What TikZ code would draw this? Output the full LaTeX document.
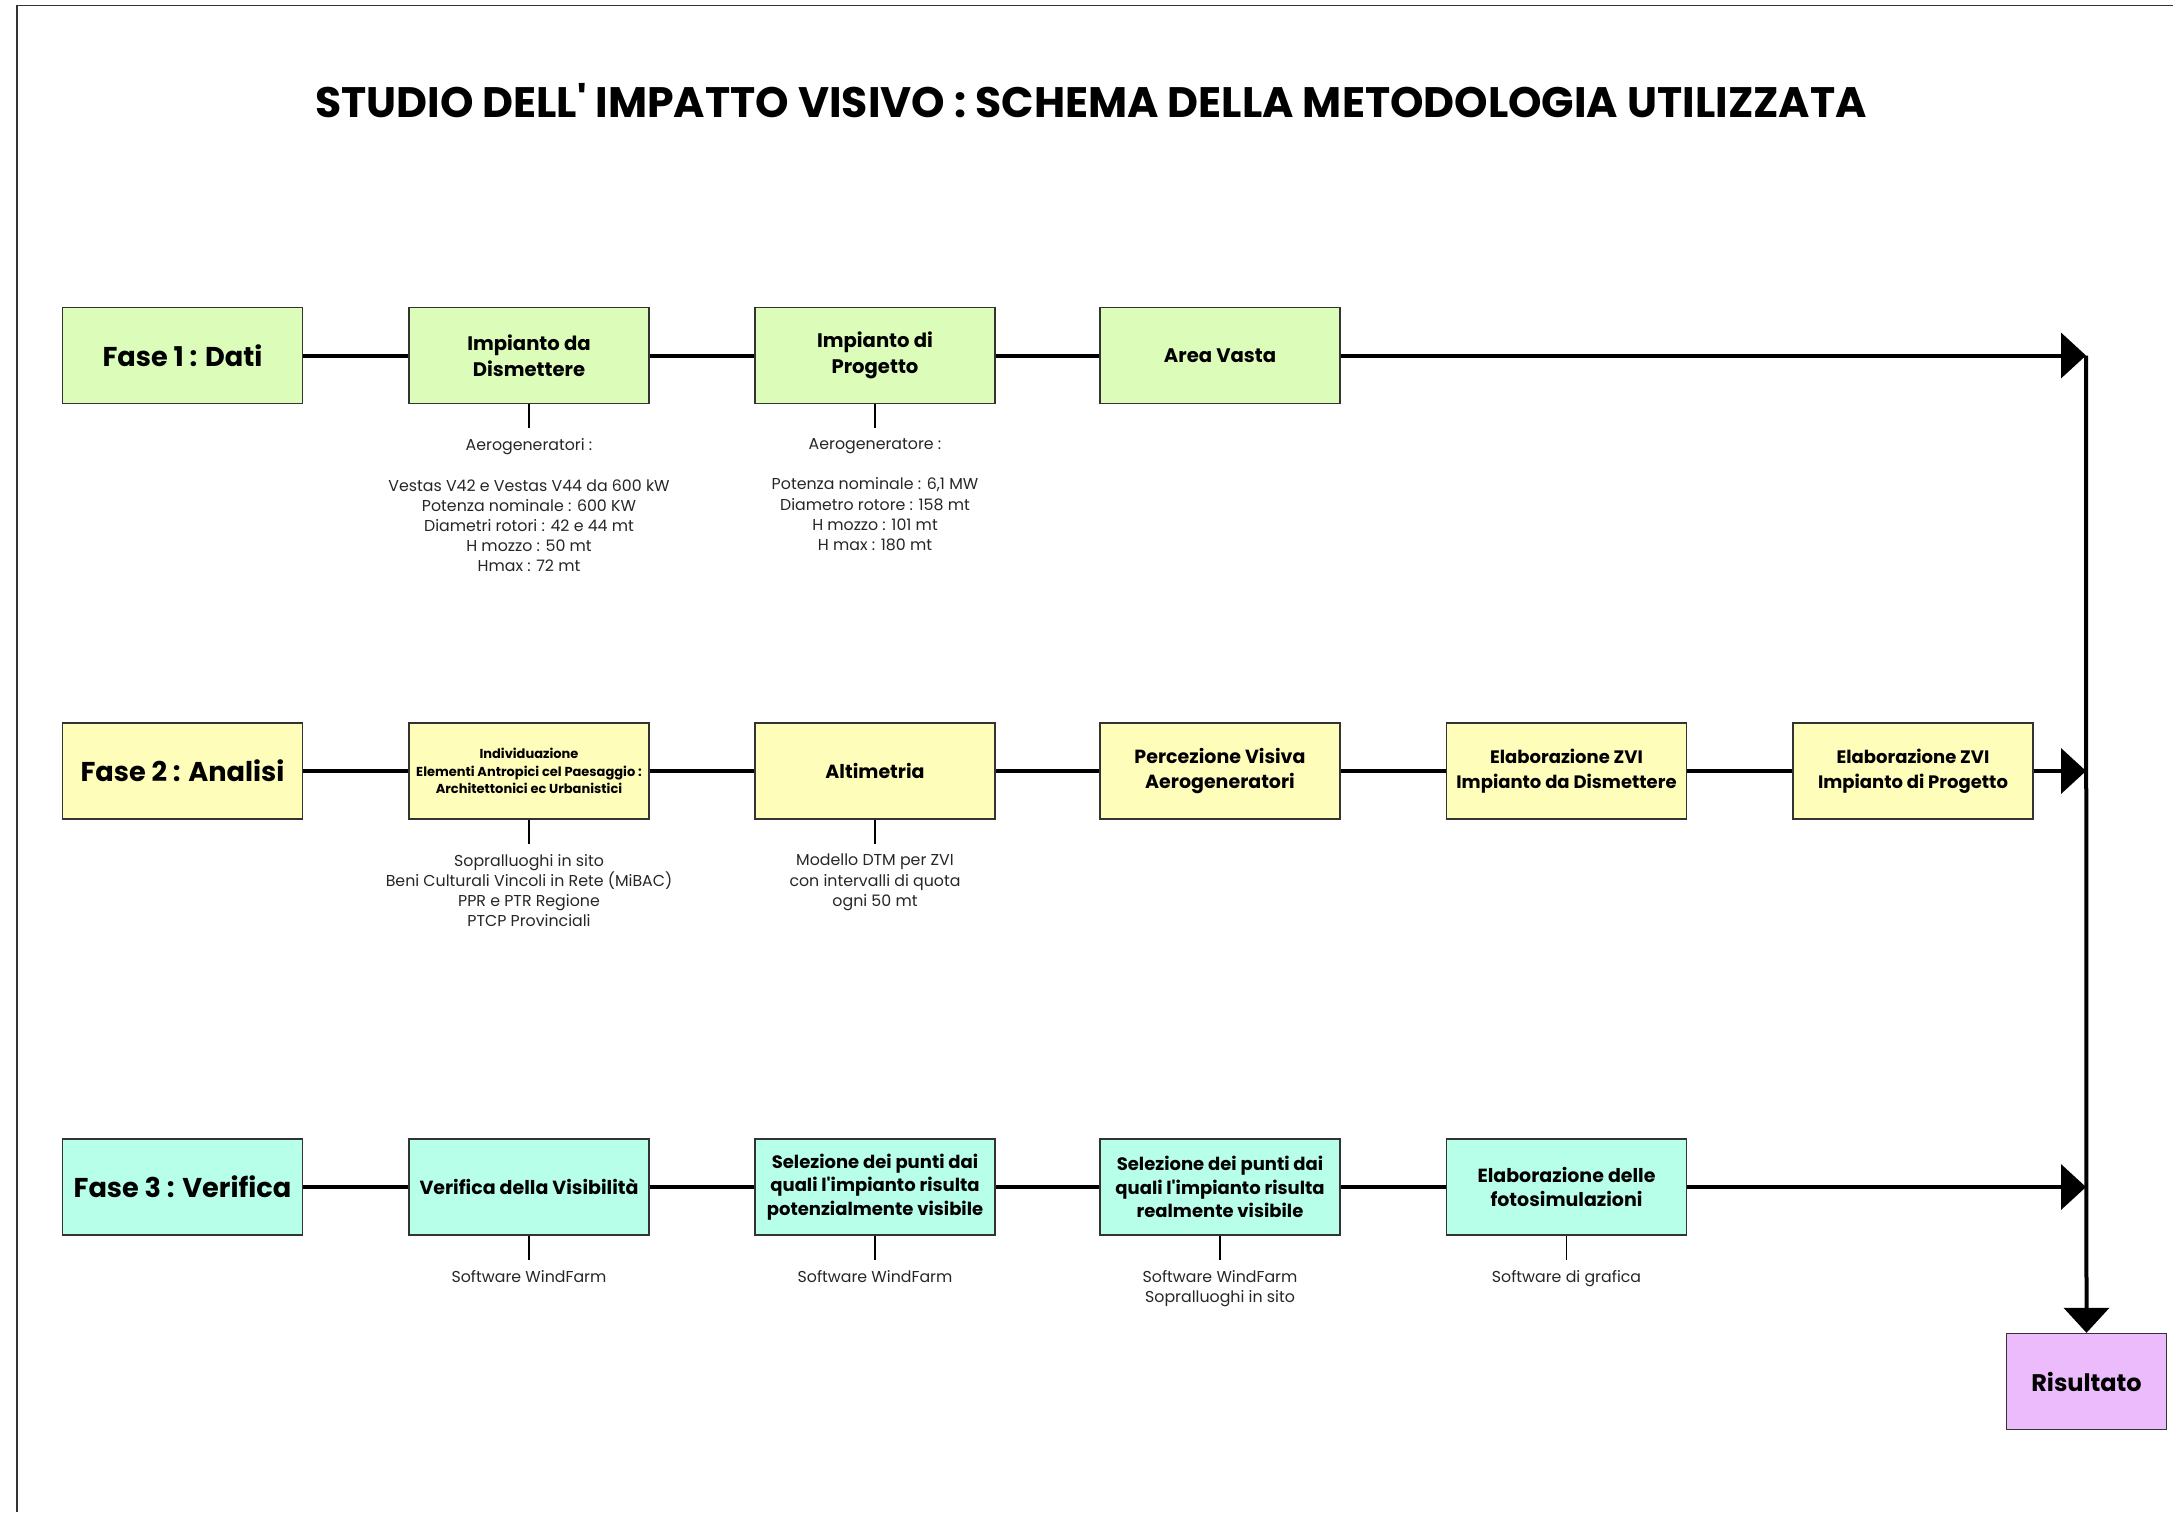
\documentclass[tikz,border=0pt]{standalone}
\usepackage{fontspec}
\setmainfont{Poppins}
\usetikzlibrary{arrows.meta}
\definecolor{cA}{HTML}{DBFDB9}
\definecolor{cB}{HTML}{FFFDBA}
\definecolor{cC}{HTML}{B8FFEA}
\definecolor{cD}{HTML}{EBBBFB}
\definecolor{edge}{HTML}{333333}
\begin{document}
\begin{tikzpicture}[x=0.5pt,y=-0.5pt,
  stepbox/.style={draw=edge, line width=0.7pt, minimum width=120pt, minimum height=48pt,
    inner sep=1pt, align=center, font=\fontsize{9.5}{12.3}\selectfont\bfseries},
  fasebox/.style={stepbox, font=\fontsize{13.6}{16}\selectfont\bfseries},
  tinybox/.style={stepbox, font=\fontsize{6.5}{8.7}\selectfont\bfseries},
  conn/.style={line width=2pt, black},
  arr/.style={conn, -{Triangle[length=12.5pt,width=22.5pt]}},
  leader/.style={line width=0.7pt, black},
  note/.style={anchor=north, align=center, inner sep=0pt, text=black!85,
    font=\fontsize{7.9}{10.1}\selectfont},
]
\useasboundingbox (0,0) rectangle (2173,1512);
\draw[line width=0.75pt, edge] (17,1512) -- (17,5.5) -- (2173,5.5);

\node[font=\fontsize{21.3}{24}\selectfont\bfseries] (title) at (1091,101) {STUDIO DELL\textquotesingle{} IMPATTO VISIVO : SCHEMA DELLA METODOLOGIA UTILIZZATA};

% Row 1
\node[fasebox, fill=cA] (a1) at (182.5,355.5) {Fase 1 : Dati};
\node[stepbox, fill=cA, font=\fontsize{9.8}{13}\selectfont\bfseries] (a2) at (529,355.5) {Impianto da\\Dismettere};
\node[stepbox, fill=cA, font=\fontsize{9.8}{13}\selectfont\bfseries] (a3) at (875,355.5) {Impianto di\\Progetto};
\node[stepbox, fill=cA, font=\fontsize{9.8}{13}\selectfont\bfseries] (a4) at (1220,355.5) {Area Vasta};
\coordinate (j1) at (2086,355.5);

% Row 2
\node[fasebox, fill=cB] (b1) at (182.5,771) {Fase 2 : Analisi};
\node[tinybox, fill=cB] (b2) at (529,771) {Individuazione\\Elementi Antropici cel Paesaggio :\\Architettonici ec Urbanistici};
\node[stepbox, fill=cB] (b3) at (875,771) {Altimetria};
\node[stepbox, fill=cB] (b4) at (1220,771) {Percezione Visiva\\Aerogeneratori};
\node[stepbox, fill=cB, font=\fontsize{9}{12.3}\selectfont\bfseries] (b5) at (1566.5,771) {Elaborazione ZVI\\Impianto da Dismettere};
\node[stepbox, fill=cB, font=\fontsize{9}{12.3}\selectfont\bfseries] (b6) at (1913,771) {Elaborazione ZVI\\Impianto di Progetto};
\coordinate (j2) at (2086,771);

% Row 3
\node[fasebox, fill=cC] (c1) at (182.5,1187) {Fase 3 : Verifica};
\node[stepbox, fill=cC] (c2) at (529,1187) {Verifica della Visibilità};
\node[stepbox, fill=cC, font=\fontsize{9}{11.8}\selectfont\bfseries] (c3) at (875,1187) {Selezione dei punti dai\\quali l\textquotesingle{}impianto risulta\\potenzialmente visibile};
\node[stepbox, fill=cC, font=\fontsize{9}{11.8}\selectfont\bfseries] (c4) at (1220,1187) {Selezione dei punti dai\\quali l\textquotesingle{}impianto risulta\\realmente visibile};
\node[stepbox, fill=cC] (c5) at (1566.5,1187) {Elaborazione delle\\fotosimulazioni};
\coordinate (j3) at (2086,1187);

\node[stepbox, fill=cD, minimum width=80pt, font=\fontsize{12}{14}\selectfont\bfseries] (r) at (2086.5,1381.5) {Risultato};

% connectors
\draw[conn] (a1.east) -- (a2.west);
\draw[conn] (a2.east) -- (a3.west);
\draw[conn] (a3.east) -- (a4.west);
\draw[arr] (a4.east) -- (j1);
\draw[conn] (b1.east) -- (b2.west);
\draw[conn] (b2.east) -- (b3.west);
\draw[conn] (b3.east) -- (b4.west);
\draw[conn] (b4.east) -- (b5.west);
\draw[conn] (b5.east) -- (b6.west);
\draw[arr] (b6.east) -- (j2);
\draw[conn] (c1.east) -- (c2.west);
\draw[conn] (c2.east) -- (c3.west);
\draw[conn] (c3.east) -- (c4.west);
\draw[conn] (c4.east) -- (c5.west);
\draw[arr] (c5.east) -- (j3);
\draw[arr] (j1) -- (r.north);

% leaders and notes
\foreach \n in {a2,a3,b2,b3,c2,c3,c4,c5}{
  \draw[leader] (\n.south) -- ++(0,24) coordinate (\n-l);
}
\node[note] (na2) at ([yshift=-5pt]a2-l) {Aerogeneratori :\\[10.1pt]Vestas V42 e Vestas V44 da 600 kW\\Potenza nominale : 600 KW\\Diametri rotori : 42 e 44 mt\\H mozzo : 50 mt\\Hmax : 72 mt};
\node[note] (na3) at ([yshift=-5pt]a3-l) {Aerogeneratore :\\[10.1pt]Potenza nominale : 6,1 MW\\Diametro rotore : 158 mt\\H mozzo : 101 mt\\H max : 180 mt};
\node[note] (nb2) at ([yshift=-5pt]b2-l) {Sopralluoghi in sito\\Beni Culturali Vincoli in Rete (MiBAC)\\PPR e PTR Regione\\PTCP Provinciali};
\node[note] (nb3) at ([yshift=-5pt]b3-l) {Modello DTM per ZVI\\con intervalli di quota\\ogni 50 mt};
\node[note] (nc2) at ([yshift=-5pt]c2-l) {Software WindFarm};
\node[note] (nc3) at ([yshift=-5pt]c3-l) {Software WindFarm};
\node[note] (nc4) at ([yshift=-5pt]c4-l) {Software WindFarm\\Sopralluoghi in sito};
\node[note] (nc5) at ([yshift=-5pt]c5-l) {Software di grafica};
\end{tikzpicture}
\end{document}
